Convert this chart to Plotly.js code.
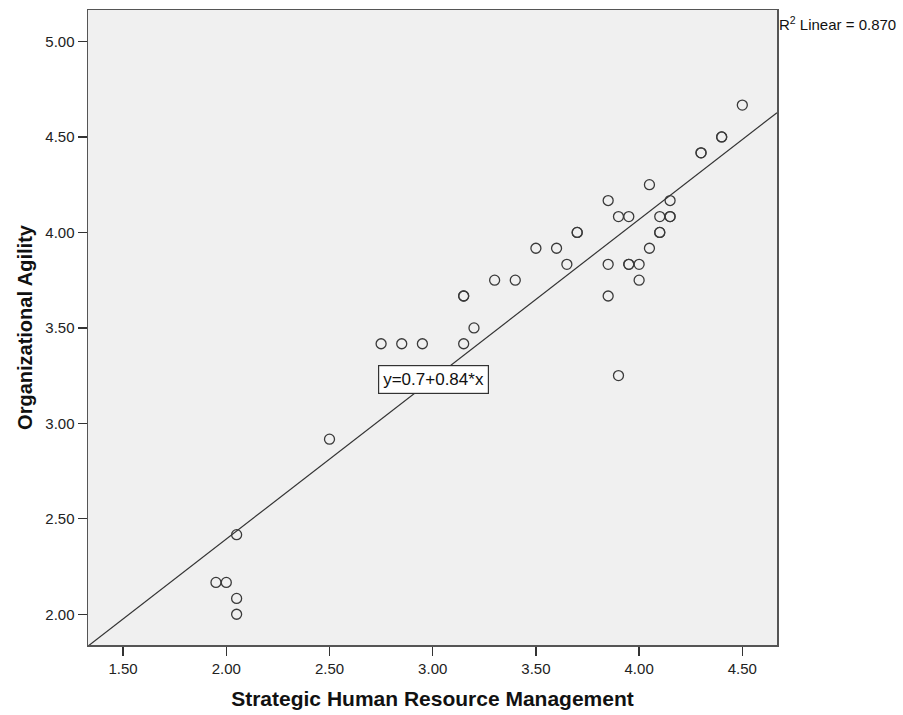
<!DOCTYPE html>
<html>
<head>
<meta charset="utf-8">
<script src="https://cdn.plot.ly/plotly-3.0.1.min.js"></script>
<style>html,body{margin:0;padding:0;background:#fff;}#chart{width:903px;height:715px;}</style>
</head>
<body>
<div id="chart"></div>
<script>
// Strategic Human Resource Management (x) vs Organizational Agility (y)
const shrm = [
  4.50, 4.40, 4.40, 4.30, 4.30, 4.05, 3.85, 4.15, 3.90, 3.95, 4.10, 4.15, 4.15,
  3.70, 3.70, 4.10, 4.10, 3.50, 3.60, 4.05, 3.65, 3.85, 3.95, 3.95, 4.00,
  3.30, 3.40, 4.00, 3.15, 3.15, 3.85, 3.20, 2.75, 2.85, 2.95, 3.15, 3.90,
  2.50, 2.05, 1.95, 2.00, 2.05, 2.05
];
const agility = [
  4.667, 4.500, 4.500, 4.417, 4.417, 4.250, 4.167, 4.167, 4.083, 4.083, 4.083, 4.083, 4.083,
  4.000, 4.000, 4.000, 4.000, 3.917, 3.917, 3.917, 3.833, 3.833, 3.833, 3.833, 3.833,
  3.750, 3.750, 3.750, 3.667, 3.667, 3.667, 3.500, 3.417, 3.417, 3.417, 3.417, 3.250,
  2.917, 2.417, 2.167, 2.167, 2.083, 2.000
];
const fitIntercept = 0.72;
const fitSlope = 0.837;
const xRange = [1.33, 4.668];
const yRange = [1.839, 5.165];
const xTicks = [1.5, 2.0, 2.5, 3.0, 3.5, 4.0, 4.5];
const yTicks = [2.0, 2.5, 3.0, 3.5, 4.0, 4.5, 5.0];
const eqLabel = "y=0.7+0.84*x";
const r2Label = "R<sup>2</sup> Linear = 0.870";

const fitX = xRange.slice();
const fitY = fitX.map(v => fitIntercept + fitSlope * v);

const FONT = 'Liberation Sans, Arial, sans-serif';

const data = [
  {
    x: fitX, y: fitY, mode: 'lines', type: 'scatter',
    line: {color: '#333333', width: 1.2}, hoverinfo: 'skip', showlegend: false
  },
  {
    x: shrm, y: agility, mode: 'markers', type: 'scatter',
    marker: {symbol: 'circle-open', size: 10, color: '#3a3a3a', line: {width: 1.3, color: '#3a3a3a'}},
    showlegend: false
  }
];

const axisCommon = {
  showgrid: false, zeroline: false,
  showline: true, mirror: true, linecolor: '#555555', linewidth: 1.5,
  ticks: 'outside', ticklen: 9, tickwidth: 1.4, tickcolor: '#333333',
  tickfont: {family: FONT, size: 15, color: '#222'}
};

const layout = {
  width: 903, height: 715,
  margin: {l: 88, r: 126, t: 10, b: 70},
  paper_bgcolor: '#ffffff', plot_bgcolor: '#f0f0f0',
  xaxis: Object.assign({}, axisCommon, {
    range: xRange, tickvals: xTicks, ticktext: xTicks.map(v => v.toFixed(2)),
    title: {text: 'Strategic Human Resource Management', standoff: 16,
      font: {family: FONT, size: 21, color: '#111', weight: 'bold'}}
  }),
  yaxis: Object.assign({}, axisCommon, {
    range: yRange, tickvals: yTicks, ticktext: yTicks.map(v => v.toFixed(2)),
    title: {text: 'Organizational Agility', standoff: 7,
      font: {family: FONT, size: 20, color: '#111', weight: 'bold'}}
  }),
  annotations: [
    {
      x: 3.004, y: 3.231, xref: 'x', yref: 'y', text: eqLabel, showarrow: false,
      font: {family: FONT, size: 17, color: '#111'},
      bgcolor: '#ffffff', bordercolor: '#333333', borderwidth: 1.2, borderpad: 4
    },
    {
      x: 1, y: 1, xref: 'paper', yref: 'paper', xanchor: 'left', yanchor: 'top',
      xshift: 0, yshift: -2,
      text: r2Label, showarrow: false,
      font: {family: FONT, size: 15, color: '#111'}
    }
  ]
};

Plotly.newPlot('chart', data, layout, {displayModeBar: false, staticPlot: true});
</script>
</body>
</html>
